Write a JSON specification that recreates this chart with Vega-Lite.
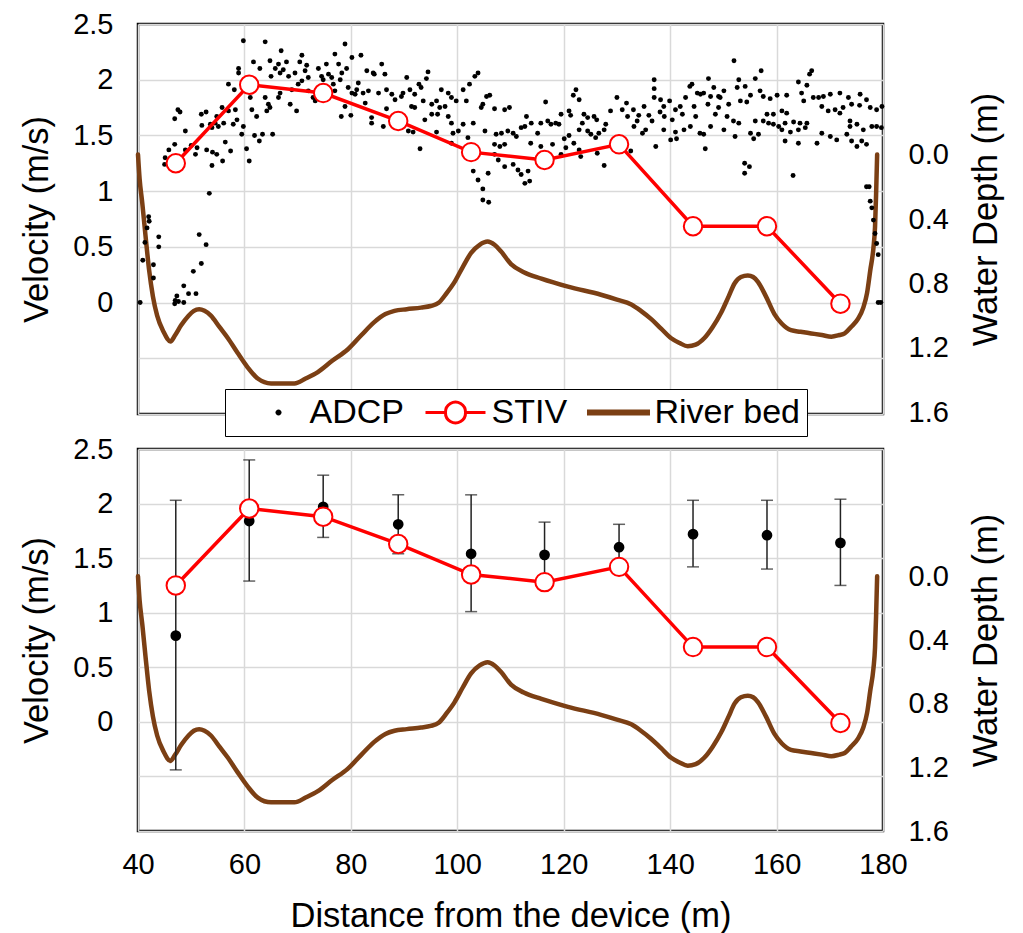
{
"$schema": "https://vega.github.io/schema/vega-lite/v6.json",
"background": "white",
"padding": {"left": 18, "top": 8, "right": 5, "bottom": 0},
"config": {
  "font": "Liberation Sans",
  "view": {"stroke": "black", "strokeWidth": 2.5},
  "axis": {"labelFont": "Liberation Sans", "titleFont": "Liberation Sans", "labelFontSize": 29, "titleFontSize": 34.5, "titleFontWeight": "normal", "labelColor": "black", "titleColor": "black", "ticks": false, "domain": false, "gridColor": "#d9d9d9", "gridWidth": 1.5, "labelFlush": false, "labelOverlap": false, "labelBound": false}
},
"datasets": {
"stiv": [{"d":47.1,"v":1.25},{"d":60.9,"v":1.955},{"d":74.8,"v":1.88},{"d":88.9,"v":1.63},{"d":102.6,"v":1.35},{"d":116.4,"v":1.28},{"d":130.4,"v":1.42},{"d":144.3,"v":0.685},{"d":158.2,"v":0.685},{"d":172.0,"v":-0.01}],
"adcpmean": [{"d":47.1,"v":0.79,"lo":-0.44,"hi":2.03},{"d":60.9,"v":1.84,"lo":1.29,"hi":2.40},{"d":74.8,"v":1.97,"lo":1.69,"hi":2.26},{"d":88.9,"v":1.81,"lo":1.54,"hi":2.08},{"d":102.6,"v":1.54,"lo":1.01,"hi":2.08},{"d":116.4,"v":1.53,"lo":1.23,"hi":1.83},{"d":130.4,"v":1.60,"lo":1.39,"hi":1.81},{"d":144.3,"v":1.72,"lo":1.42,"hi":2.03},{"d":158.2,"v":1.71,"lo":1.40,"hi":2.03},{"d":172.0,"v":1.64,"lo":1.25,"hi":2.04}],
"bed": [{"d":40.0,"depth":0.0},{"d":40.3,"depth":0.15},{"d":40.8,"depth":0.3},{"d":41.4,"depth":0.5},{"d":42.1,"depth":0.72},{"d":42.8,"depth":0.88},{"d":43.6,"depth":1.0},{"d":44.8,"depth":1.1},{"d":46.1,"depth":1.16},{"d":47.0,"depth":1.12},{"d":48.1,"depth":1.06},{"d":49.5,"depth":1.0},{"d":50.5,"depth":0.97},{"d":51.5,"depth":0.96},{"d":52.5,"depth":0.97},{"d":53.7,"depth":1.0},{"d":55.3,"depth":1.07},{"d":56.9,"depth":1.14},{"d":58.7,"depth":1.23},{"d":60.6,"depth":1.32},{"d":62.5,"depth":1.39},{"d":65.0,"depth":1.42},{"d":67.0,"depth":1.42},{"d":69.4,"depth":1.42},{"d":71.5,"depth":1.39},{"d":73.8,"depth":1.35},{"d":76.5,"depth":1.28},{"d":79.4,"depth":1.21},{"d":82.0,"depth":1.12},{"d":84.4,"depth":1.04},{"d":86.5,"depth":0.99},{"d":88.2,"depth":0.97},{"d":90.5,"depth":0.96},{"d":93.2,"depth":0.95},{"d":95.0,"depth":0.94},{"d":96.5,"depth":0.92},{"d":98.0,"depth":0.86},{"d":99.5,"depth":0.79},{"d":101.0,"depth":0.7},{"d":102.6,"depth":0.61},{"d":104.2,"depth":0.56},{"d":105.7,"depth":0.54},{"d":107.0,"depth":0.56},{"d":108.2,"depth":0.6},{"d":110.1,"depth":0.68},{"d":112.5,"depth":0.73},{"d":115.8,"depth":0.77},{"d":120.8,"depth":0.82},{"d":127.0,"depth":0.87},{"d":130.0,"depth":0.9},{"d":132.7,"depth":0.93},{"d":134.5,"depth":0.97},{"d":136.4,"depth":1.02},{"d":138.3,"depth":1.08},{"d":140.2,"depth":1.14},{"d":141.8,"depth":1.17},{"d":143.3,"depth":1.19},{"d":144.8,"depth":1.18},{"d":146.4,"depth":1.14},{"d":148.0,"depth":1.07},{"d":149.6,"depth":0.98},{"d":151.0,"depth":0.88},{"d":152.1,"depth":0.8},{"d":153.3,"depth":0.76},{"d":154.6,"depth":0.75},{"d":155.6,"depth":0.76},{"d":156.5,"depth":0.79},{"d":158.0,"depth":0.88},{"d":159.6,"depth":0.99},{"d":161.0,"depth":1.05},{"d":162.7,"depth":1.09},{"d":164.5,"depth":1.1},{"d":166.5,"depth":1.11},{"d":168.5,"depth":1.12},{"d":170.3,"depth":1.13},{"d":171.8,"depth":1.12},{"d":172.8,"depth":1.11},{"d":174.0,"depth":1.07},{"d":175.3,"depth":1.02},{"d":176.3,"depth":0.95},{"d":177.0,"depth":0.86},{"d":177.6,"depth":0.72},{"d":178.2,"depth":0.58},{"d":178.5,"depth":0.45},{"d":178.7,"depth":0.25},{"d":178.9,"depth":0.0}],
"adcp": [
{"d":59.8,"v":2.35},{"d":63.9,"v":2.34},{"d":66.9,"v":2.26},{"d":70.8,"v":2.22},{"d":61.7,"v":2.16},{"d":64.8,"v":2.17},{"d":66.4,"v":2.14},{"d":67.9,"v":2.16},{"d":58.9,"v":2.10},{"d":62.9,"v":2.10},{"d":65.8,"v":2.10},{"d":67.3,"v":2.09},{"d":70.4,"v":2.16},{"d":71.7,"v":2.13},{"d":71.4,"v":2.08},{"d":73.9,"v":2.10},{"d":75.4,"v":2.14},{"d":58.9,"v":2.06},{"d":65.0,"v":2.03},{"d":66.7,"v":2.06},{"d":68.3,"v":2.03},{"d":69.5,"v":2.06},{"d":70.8,"v":1.99},{"d":72.0,"v":2.02},{"d":74.5,"v":2.03},{"d":75.8,"v":2.05},{"d":74.8,"v":2.00},{"d":76.4,"v":2.02},{"d":57.0,"v":1.96},{"d":58.1,"v":1.91},{"d":61.1,"v":1.84},{"d":63.9,"v":1.84},{"d":64.8,"v":1.75},{"d":66.4,"v":1.84},{"d":66.7,"v":1.88},{"d":68.9,"v":1.91},{"d":70.1,"v":1.96},{"d":68.6,"v":1.78},{"d":69.8,"v":1.72},{"d":72.0,"v":1.90},{"d":72.9,"v":1.84},{"d":73.9,"v":1.87},{"d":76.7,"v":1.96},{"d":77.0,"v":1.90},{"d":73.3,"v":1.81},{"d":55.8,"v":1.75},{"d":57.0,"v":1.72},{"d":58.3,"v":1.73},{"d":54.8,"v":1.67},{"d":56.1,"v":1.61},{"d":54.5,"v":1.61},{"d":57.9,"v":1.60},{"d":58.6,"v":1.64},{"d":59.8,"v":1.58},{"d":61.4,"v":1.73},{"d":62.3,"v":1.67},{"d":64.2,"v":1.72},{"d":64.5,"v":1.78},{"d":47.5,"v":1.73},{"d":47.9,"v":1.71},{"d":46.9,"v":1.65},{"d":51.9,"v":1.69},{"d":52.8,"v":1.71},{"d":52.0,"v":1.59},{"d":48.9,"v":1.54},{"d":53.6,"v":1.60},{"d":55.1,"v":1.58},{"d":53.9,"v":1.57},{"d":59.5,"v":1.51},{"d":61.9,"v":1.50},{"d":63.4,"v":1.51},{"d":65.3,"v":1.51},{"d":62.8,"v":1.45},{"d":56.4,"v":1.44},{"d":60.4,"v":1.38},{"d":60.9,"v":1.27},{"d":57.4,"v":1.36},{"d":55.9,"v":1.27},{"d":53.9,"v":1.23},{"d":52.9,"v":1.37},{"d":54.0,"v":1.35},{"d":54.8,"v":1.33},{"d":51.1,"v":1.39},{"d":50.8,"v":1.33},{"d":50.0,"v":1.41},{"d":46.9,"v":1.42},{"d":45.8,"v":1.37},{"d":45.1,"v":1.30},{"d":45.0,"v":1.24},{"d":48.9,"v":1.37},{"d":53.4,"v":0.98},
{"d":42.0,"v":0.77},{"d":42.1,"v":0.73},{"d":41.7,"v":0.67},{"d":41.3,"v":0.54},{"d":43.9,"v":0.59},{"d":43.9,"v":0.50},{"d":40.9,"v":0.38},{"d":42.9,"v":0.34},{"d":42.9,"v":0.22},{"d":51.5,"v":0.61},{"d":52.8,"v":0.52},{"d":51.9,"v":0.35},{"d":50.4,"v":0.28},{"d":48.6,"v":0.15},{"d":49.5,"v":0.08},{"d":50.9,"v":0.08},{"d":47.3,"v":0.06},{"d":47.0,"v":0.02},{"d":47.6,"v":0.01},{"d":48.6,"v":0.00},{"d":46.9,"v":-0.01},{"d":40.4,"v":0.00},
{"d":78.9,"v":2.32},{"d":77.0,"v":2.23},{"d":77.7,"v":2.14},{"d":80.2,"v":2.20},{"d":81.9,"v":2.22},{"d":78.3,"v":2.06},{"d":79.2,"v":2.10},{"d":78.0,"v":2.00},{"d":79.5,"v":1.93},{"d":80.2,"v":1.88},{"d":81.4,"v":1.97},{"d":83.0,"v":2.08},{"d":84.2,"v":2.06},{"d":85.8,"v":2.14},{"d":86.4,"v":2.05},{"d":84.4,"v":2.05},{"d":81.1,"v":1.91},{"d":82.3,"v":1.88},{"d":80.8,"v":1.87},{"d":82.7,"v":1.79},{"d":83.3,"v":1.90},{"d":85.2,"v":1.88},{"d":86.7,"v":1.91},{"d":87.7,"v":1.87},{"d":88.3,"v":1.82},{"d":89.5,"v":1.85},{"d":89.8,"v":1.88},{"d":90.5,"v":2.02},{"d":92.8,"v":1.96},{"d":93.2,"v":1.93},{"d":94.2,"v":2.01},{"d":94.5,"v":2.07},{"d":92.0,"v":1.87},{"d":91.1,"v":1.91},{"d":93.6,"v":1.81},{"d":95.2,"v":1.78},{"d":96.1,"v":1.81},{"d":96.7,"v":1.75},{"d":97.0,"v":1.91},{"d":98.3,"v":1.88},{"d":98.9,"v":1.84},{"d":99.8,"v":1.81},{"d":101.1,"v":1.91},{"d":102.3,"v":1.96},{"d":103.3,"v":2.03},{"d":103.9,"v":2.06},{"d":101.7,"v":1.81},{"d":97.7,"v":1.76},{"d":98.3,"v":1.67},{"d":96.3,"v":1.69},{"d":95.2,"v":1.69},{"d":93.9,"v":1.64},{"d":92.0,"v":1.75},{"d":91.4,"v":1.76},{"d":78.9,"v":1.76},{"d":78.2,"v":1.67},{"d":80.0,"v":1.68},{"d":83.9,"v":1.66},{"d":83.9,"v":1.61},{"d":86.1,"v":1.58},{"d":86.7,"v":1.74},{"d":90.8,"v":1.54},{"d":91.7,"v":1.53},{"d":93.0,"v":1.38},{"d":96.1,"v":1.53},{"d":98.9,"v":1.61},{"d":99.2,"v":1.52},{"d":101.1,"v":1.60},{"d":100.2,"v":1.54},{"d":103.0,"v":1.61},{"d":102.0,"v":1.48},{"d":105.5,"v":1.85},{"d":106.1,"v":1.86},{"d":104.8,"v":1.78},{"d":104.5,"v":1.75},{"d":107.0,"v":1.74},{"d":108.9,"v":1.73},{"d":109.8,"v":1.75},{"d":105.2,"v":1.54},{"d":107.3,"v":1.51},{"d":108.3,"v":1.52},{"d":109.5,"v":1.54},{"d":110.5,"v":1.52},{"d":111.1,"v":1.49},{"d":112.0,"v":1.57},{"d":112.7,"v":1.58},{"d":113.0,"v":1.67},{"d":113.9,"v":1.61},{"d":107.0,"v":1.42},{"d":108.0,"v":1.40},{"d":108.9,"v":1.42},{"d":107.0,"v":1.33},{"d":107.7,"v":1.28},{"d":108.9,"v":1.22},{"d":110.5,"v":1.24},{"d":111.4,"v":1.19},{"d":112.0,"v":1.15},{"d":103.0,"v":1.18},{"d":103.9,"v":1.10},{"d":105.8,"v":1.16},{"d":104.8,"v":1.02},{"d":104.8,"v":0.92},{"d":105.9,"v":0.90},{"d":113.3,"v":1.18},{"d":112.7,"v":1.07},{"d":113.6,"v":1.09},{"d":98.9,"v":1.43},
{"d":115.1,"v":1.52},{"d":115.7,"v":1.61},{"d":116.6,"v":1.80},{"d":117.0,"v":1.63},{"d":117.6,"v":1.60},{"d":118.5,"v":1.61},{"d":119.1,"v":1.60},{"d":119.5,"v":1.69},{"d":121.0,"v":1.72},{"d":121.3,"v":1.68},{"d":122.3,"v":1.91},{"d":121.8,"v":1.86},{"d":122.9,"v":1.82},{"d":123.8,"v":1.69},{"d":124.5,"v":1.66},{"d":125.7,"v":1.67},{"d":126.2,"v":1.64},{"d":123.5,"v":1.61},{"d":124.5,"v":1.54},{"d":122.9,"v":1.55},{"d":125.1,"v":1.51},{"d":126.0,"v":1.48},{"d":126.6,"v":1.52},{"d":127.6,"v":1.55},{"d":127.9,"v":1.60},{"d":128.8,"v":1.72},{"d":130.0,"v":1.84},{"d":131.0,"v":1.73},{"d":131.8,"v":1.79},{"d":132.0,"v":1.67},{"d":133.1,"v":1.73},{"d":134.1,"v":1.68},{"d":133.8,"v":1.63},{"d":133.2,"v":1.58},{"d":134.8,"v":1.52},{"d":135.1,"v":1.76},{"d":136.0,"v":1.68},{"d":136.6,"v":1.63},{"d":137.0,"v":2.00},{"d":137.0,"v":1.92},{"d":137.0,"v":1.84},{"d":138.2,"v":1.82},{"d":138.8,"v":1.76},{"d":138.1,"v":1.71},{"d":138.9,"v":1.67},{"d":139.9,"v":1.81},{"d":140.4,"v":1.64},{"d":141.0,"v":1.73},{"d":141.9,"v":1.76},{"d":142.3,"v":1.69},{"d":142.9,"v":1.84},{"d":143.7,"v":1.94},{"d":144.1,"v":1.96},{"d":145.1,"v":1.88},{"d":145.7,"v":1.87},{"d":144.5,"v":1.76},{"d":144.8,"v":1.67},{"d":143.8,"v":1.58},{"d":145.6,"v":1.52},{"d":142.6,"v":1.55},{"d":141.0,"v":1.53},{"d":140.1,"v":1.46},{"d":141.2,"v":1.47},{"d":138.8,"v":1.55},{"d":137.3,"v":1.40},{"d":135.4,"v":1.55},{"d":113.8,"v":1.43},{"d":115.7,"v":1.40},{"d":117.9,"v":1.42},{"d":120.1,"v":1.47},{"d":121.0,"v":1.50},{"d":121.9,"v":1.43},{"d":120.4,"v":1.39},{"d":119.5,"v":1.33},{"d":122.9,"v":1.37},{"d":123.2,"v":1.31},{"d":126.3,"v":1.34},{"d":127.6,"v":1.23},{"d":132.6,"v":1.36},
{"d":152.0,"v":2.17},{"d":147.2,"v":2.01},{"d":152.9,"v":2.00},{"d":157.1,"v":2.08},{"d":156.0,"v":2.01},{"d":152.6,"v":1.93},{"d":154.1,"v":1.94},{"d":148.2,"v":1.93},{"d":150.1,"v":1.90},{"d":146.3,"v":1.88},{"d":147.6,"v":1.85},{"d":149.1,"v":1.85},{"d":149.4,"v":1.84},{"d":147.1,"v":1.78},{"d":149.1,"v":1.75},{"d":151.0,"v":1.78},{"d":153.2,"v":1.81},{"d":155.1,"v":1.86},{"d":154.4,"v":1.80},{"d":156.9,"v":1.90},{"d":157.5,"v":1.85},{"d":158.8,"v":1.83},{"d":160.1,"v":1.86},{"d":161.9,"v":1.86},{"d":164.1,"v":1.98},{"d":165.7,"v":1.95},{"d":166.2,"v":2.05},{"d":166.6,"v":2.08},{"d":164.7,"v":1.88},{"d":165.1,"v":1.81},{"d":166.9,"v":1.84},{"d":167.9,"v":1.84},{"d":168.8,"v":1.85},{"d":170.1,"v":1.87},{"d":171.9,"v":1.88},{"d":173.5,"v":1.84},{"d":175.7,"v":1.87},{"d":176.9,"v":1.82},{"d":168.5,"v":1.76},{"d":169.7,"v":1.72},{"d":171.0,"v":1.73},{"d":171.9,"v":1.70},{"d":172.5,"v":1.75},{"d":174.1,"v":1.78},{"d":175.6,"v":1.77},{"d":177.6,"v":1.75},{"d":178.8,"v":1.73},{"d":179.8,"v":1.76},{"d":148.5,"v":1.69},{"d":150.7,"v":1.67},{"d":151.9,"v":1.63},{"d":152.9,"v":1.61},{"d":156.0,"v":1.63},{"d":157.5,"v":1.63},{"d":158.2,"v":1.69},{"d":159.4,"v":1.69},{"d":161.0,"v":1.72},{"d":161.9,"v":1.70},{"d":158.5,"v":1.61},{"d":159.4,"v":1.60},{"d":160.4,"v":1.58},{"d":161.6,"v":1.61},{"d":163.2,"v":1.62},{"d":164.4,"v":1.61},{"d":165.7,"v":1.61},{"d":161.0,"v":1.55},{"d":162.6,"v":1.53},{"d":164.1,"v":1.55},{"d":165.4,"v":1.57},{"d":155.1,"v":1.52},{"d":156.6,"v":1.51},{"d":155.7,"v":1.47},{"d":152.2,"v":1.49},{"d":150.1,"v":1.55},{"d":147.6,"v":1.58},{"d":146.6,"v":1.38},{"d":146.3,"v":1.51},{"d":161.6,"v":1.45},{"d":164.1,"v":1.43},{"d":167.6,"v":1.43},{"d":168.5,"v":1.52},{"d":170.1,"v":1.49},{"d":171.3,"v":1.46},{"d":173.2,"v":1.51},{"d":174.1,"v":1.45},{"d":175.1,"v":1.40},{"d":176.0,"v":1.45},{"d":176.9,"v":1.42},{"d":173.8,"v":1.58},{"d":175.1,"v":1.60},{"d":176.3,"v":1.55},{"d":177.9,"v":1.58},{"d":178.8,"v":1.58},{"d":173.8,"v":1.63},{"d":154.0,"v":1.25},{"d":154.9,"v":1.22},{"d":154.0,"v":1.16},{"d":163.1,"v":1.14},{"d":176.9,"v":1.04},{"d":177.4,"v":1.04},{"d":177.6,"v":0.91},{"d":177.9,"v":0.85},{"d":178.2,"v":0.74},{"d":178.5,"v":0.62},{"d":178.8,"v":0.53},{"d":179.1,"v":0.43},{"d":179.1,"v":0.00},{"d":179.6,"v":0.00},{"d":179.7,"v":1.57}
]
},
"spacing": 35,
"bounds": "flush",
"vconcat": [
{
  "width": 745, "height": 390,
  "layer": [
    {
      "data": {"name": "bed"},
      "mark": {"type": "line", "interpolate": "monotone", "strokeWidth": 4.5, "strokeCap": "round", "strokeJoin": "round", "stroke": "#7B3F14"},
      "encoding": {
        "x": {"field": "d", "type": "quantitative", "scale": {"domain": [40, 180], "nice": false, "zero": false}, "axis": {"values": [40,60,80,100,120,140,160,180], "labels": false, "title": null, "grid": true}},
        "y": {"field": "depth", "type": "quantitative", "scale": {"domain": [-0.81, 1.61], "reverse": true, "nice": false, "zero": false}, "axis": {"orient": "right", "values": [0,0.4,0.8,1.2,1.6], "format": ".1f", "grid": false, "title": "Water Depth (m)", "labelPadding": 25, "titlePadding": 21, "titleAngle": 270, "titleBaseline": "top"}}
      }
    },
    {
      "layer": [
        {
          "data": {"name": "adcp"},
          "mark": {"type": "circle", "size": 24, "opacity": 1, "fill": "black"},
          "encoding": {
            "x": {"field": "d", "type": "quantitative"},
            "y": {"field": "v", "type": "quantitative", "scale": {"domain": [-1, 2.5], "nice": false, "zero": false}, "axis": {"orient": "left", "values": [-1,-0.5,0,0.5,1,1.5,2,2.5], "labelExpr": "datum.value < 0 ? '' : format(datum.value, '~g')", "title": "Velocity (m/s)", "labelPadding": 25, "titlePadding": 18, "grid": true}}
          }
        },
        {
          "data": {"name": "stiv"},
          "mark": {"type": "line", "strokeWidth": 3.5, "stroke": "red"},
          "encoding": {
            "x": {"field": "d", "type": "quantitative"},
            "y": {"field": "v", "type": "quantitative"}
          }
        },
        {
          "data": {"name": "stiv"},
          "mark": {"type": "point", "shape": "circle", "fill": "white", "stroke": "red", "strokeWidth": 2, "size": 340, "opacity": 1},
          "encoding": {
            "x": {"field": "d", "type": "quantitative"},
            "y": {"field": "v", "type": "quantitative"}
          }
        },
        {
          "data": {"name": "stiv"},
          "mark": {"type": "point", "opacity": 0, "strokeWidth": 3, "filled": true},
          "encoding": {
            "x": {"field": "d", "type": "quantitative"},
            "y": {"field": "v", "type": "quantitative"},
            "shape": {"datum": "STIV", "type": "nominal",
              "scale": {"domain": ["ADCP", "STIV", "River bed"], "range": ["M1.267,0A0.2,0.2,0,1,1,0.867,0A0.2,0.2,0,1,1,1.267,0Z", "M-1.267,0L0.067,0M1.4,0L2.733,0M1.4,0A0.667,0.667,0,1,1,0.067,0A0.667,0.667,0,1,1,1.4,0Z", "M-1.267,-0.1L2.733,-0.1L2.733,0.1L-1.267,0.1Z"]},
              "legend": {"orient": "none", "legendX": 87, "legendY": 365, "direction": "horizontal", "title": " ", "titleOrient": "left", "titleFontSize": 34, "titlePadding": 14, "symbolSize": 900, "symbolStrokeWidth": 3, "symbolOpacity": 1, "labelFont": "Liberation Sans", "labelFontSize": 34, "labelColor": "black", "labelOffset": 30, "columnPadding": 14, "padding": 6.5, "strokeColor": "black", "fillColor": "white"}},
            "fill": {"datum": "STIV", "type": "nominal",
              "scale": {"domain": ["ADCP", "STIV", "River bed"], "range": ["black", "white", "#7B3F14"]},
              "legend": {"orient": "none", "legendX": 87, "legendY": 365, "direction": "horizontal", "title": " ", "titleOrient": "left", "titleFontSize": 34, "titlePadding": 14, "symbolSize": 900, "symbolStrokeWidth": 3, "symbolOpacity": 1, "labelFont": "Liberation Sans", "labelFontSize": 34, "labelColor": "black", "labelOffset": 30, "columnPadding": 14, "padding": 6.5, "strokeColor": "black", "fillColor": "white"}},
            "stroke": {"datum": "STIV", "type": "nominal",
              "scale": {"domain": ["ADCP", "STIV", "River bed"], "range": ["transparent", "red", "#7B3F14"]},
              "legend": {"orient": "none", "legendX": 87, "legendY": 365, "direction": "horizontal", "title": " ", "titleOrient": "left", "titleFontSize": 34, "titlePadding": 14, "symbolSize": 900, "symbolStrokeWidth": 3, "symbolOpacity": 1, "labelFont": "Liberation Sans", "labelFontSize": 34, "labelColor": "black", "labelOffset": 30, "columnPadding": 14, "padding": 6.5, "strokeColor": "black", "fillColor": "white"}}
          }
        }
      ]
    }
  ],
  "resolve": {"scale": {"y": "independent"}}
},
{
  "width": 745, "height": 382,
  "layer": [
    {
      "data": {"name": "bed"},
      "mark": {"type": "line", "interpolate": "monotone", "strokeWidth": 4.5, "strokeCap": "round", "strokeJoin": "round", "stroke": "#7B3F14"},
      "encoding": {
        "x": {"field": "d", "type": "quantitative", "scale": {"domain": [40, 180], "nice": false, "zero": false}, "axis": {"values": [40,60,80,100,120,140,160,180], "title": "Distance from the device (m)", "grid": true, "labelPadding": 19, "titlePadding": 20}},
        "y": {"field": "depth", "type": "quantitative", "scale": {"domain": [-0.8, 1.6], "reverse": true, "nice": false, "zero": false}, "axis": {"orient": "right", "values": [0,0.4,0.8,1.2,1.6], "format": ".1f", "grid": false, "title": "Water Depth (m)", "labelPadding": 25, "titlePadding": 21, "titleAngle": 270, "titleBaseline": "top"}}
      }
    },
    {
      "layer": [
        {
          "data": {"name": "adcpmean"},
          "mark": {"type": "rule", "strokeWidth": 1.5, "stroke": "#222222"},
          "encoding": {
            "x": {"field": "d", "type": "quantitative"},
            "y": {"field": "lo", "type": "quantitative", "scale": {"domain": [-1, 2.5], "nice": false, "zero": false}, "axis": {"orient": "left", "values": [-1,-0.5,0,0.5,1,1.5,2,2.5], "labelExpr": "datum.value < 0 ? '' : format(datum.value, '~g')", "title": "Velocity (m/s)", "labelPadding": 25, "titlePadding": 18, "grid": true}},
            "y2": {"field": "hi"}
          }
        },
        {
          "data": {"name": "adcpmean"},
          "mark": {"type": "tick", "orient": "horizontal", "size": 12, "thickness": 1.5, "fill": "#222222"},
          "encoding": {
            "x": {"field": "d", "type": "quantitative"},
            "y": {"field": "lo", "type": "quantitative"}
          }
        },
        {
          "data": {"name": "adcpmean"},
          "mark": {"type": "tick", "orient": "horizontal", "size": 12, "thickness": 1.5, "fill": "#222222"},
          "encoding": {
            "x": {"field": "d", "type": "quantitative"},
            "y": {"field": "hi", "type": "quantitative"}
          }
        },
        {
          "data": {"name": "adcpmean"},
          "mark": {"type": "circle", "size": 115, "fill": "black", "opacity": 1},
          "encoding": {
            "x": {"field": "d", "type": "quantitative"},
            "y": {"field": "v", "type": "quantitative"}
          }
        },
        {
          "data": {"name": "stiv"},
          "mark": {"type": "line", "strokeWidth": 3.5, "stroke": "red"},
          "encoding": {
            "x": {"field": "d", "type": "quantitative"},
            "y": {"field": "v", "type": "quantitative"}
          }
        },
        {
          "data": {"name": "stiv"},
          "mark": {"type": "point", "shape": "circle", "fill": "white", "stroke": "red", "strokeWidth": 2, "size": 340, "opacity": 1},
          "encoding": {
            "x": {"field": "d", "type": "quantitative"},
            "y": {"field": "v", "type": "quantitative"}
          }
        }
      ]
    }
  ],
  "resolve": {"scale": {"y": "independent"}}
}
]
}
